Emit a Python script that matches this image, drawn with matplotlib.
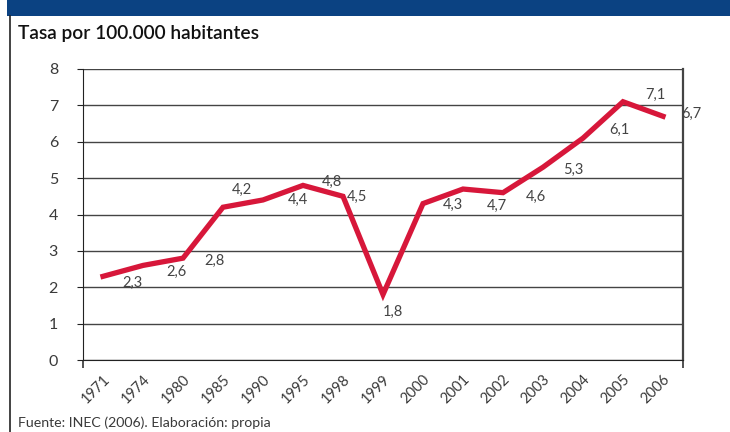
import numpy as np
import matplotlib
matplotlib.use("Agg")
from matplotlib import pyplot as plt
from matplotlib.patches import Rectangle
from matplotlib.lines import Line2D

# data
years = ["1971", "1974", "1980", "1985", "1990", "1995", "1998", "1999",
         "2000", "2001", "2002", "2003", "2004", "2005", "2006"]
tasa = [2.3, 2.6, 2.8, 4.2, 4.4, 4.8, 4.5, 1.8, 4.3, 4.7, 4.6, 5.3, 6.1, 7.1, 6.7]
value_labels = ["2,3", "2,6", "2,8", "4,2", "4,4", "4,8", "4,5", "1,8",
                "4,3", "4,7", "4,6", "5,3", "6,1", "7,1", "6,7"]

# label offsets in pixels (dx, dy), screen y down
label_offsets = [(29, 7), (33, 6), (31, 3), (19, -17), (35, 0), (29, -4), (14, 1), (10, 17),
                 (30, 1), (34, 17), (33, 4), (30, 3), (36, -8), (32, -7), (28, -2)]

W, H = 730, 432
plt.rcParams['font.family'] = ['Lato', 'DejaVu Sans']
fig = plt.figure(figsize=(W / 100, H / 100), dpi=100)

# header bar and left border
fig.add_artist(Rectangle((7 / W, 1 - 16 / H), 1, 16 / H, transform=fig.transFigure,
                         color="#0b4282", lw=0))
fig.add_artist(Line2D([9.5 / W, 9.5 / W], [0, 1 - 16 / H], transform=fig.transFigure,
                      color="#222222", lw=1.2))

fig.text(18 / W, 1 - 33 / H, "Tasa por 100.000 habitantes", fontsize=13.8,
         fontweight="semibold", color="#111111", va="center", ha="left")
fig.text(18 / W, 1 - 423 / H, "Fuente: INEC (2006). Elaboración: propia", fontsize=10.2,
         color="#3a3a3a", va="center", ha="left")

left, right, top, bottom = 83, 683, 69, 360
ax = fig.add_axes([left / W, 1 - bottom / H, (right - left) / W, (bottom - top) / H])

x = np.arange(len(years))
ax.plot(x, tasa, color="#d7173a", lw=3.8, solid_joinstyle="miter", zorder=3)

for xi, yi, lab, (dx, dy) in zip(x, tasa, value_labels, label_offsets):
    ax.annotate(lab, (xi, yi), xytext=(dx * 0.72, -dy * 0.72), textcoords="offset points",
                ha="center", va="center", fontsize=10.5, color="#444444")

ax.set_xlim(-0.5, len(years) - 0.5)
ax.set_ylim(0, 8)
ax.set_yticks(range(0, 9))
ax.yaxis.grid(True, color="#444444", lw=1)
ax.set_axisbelow(True)

ax.spines["top"].set_visible(False)
ax.spines["left"].set_color("#222222")
ax.spines["right"].set_color("#444444")
ax.spines["right"].set_linewidth(1.6)
ax.spines["bottom"].set_color("#222222")

ax.tick_params(axis="y", length=4, color="#222222", labelsize=11.5, labelcolor="#3a3a3a", pad=14)
ax.set_xticks(x)
ax.set_xticklabels(years, rotation=45, ha="right", va="top", rotation_mode="anchor",
                   fontsize=10.5, color="#3a3a3a")
ax.tick_params(axis="x", length=0, pad=9)
ax.set_xticks([-0.5, len(years) - 0.5], minor=True)
ax.tick_params(axis="x", which="minor", length=6, color="#333333", width=1.2)

fig.savefig("out.png", dpi=100)
